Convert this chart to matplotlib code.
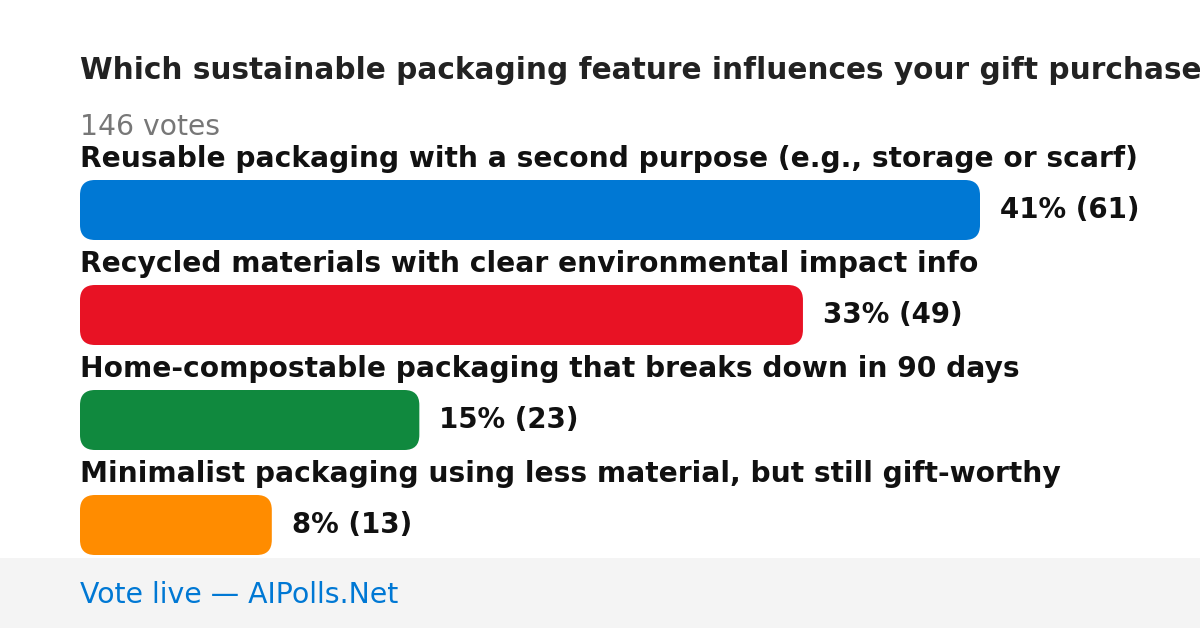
import matplotlib.pyplot as plt
from matplotlib.patches import FancyBboxPatch, Rectangle

plt.rcParams['font.family'] = ['DejaVu Sans']

# poll data
title = "Which sustainable packaging feature influences your gift purchase?"
total_votes = 146
options = [
    "Reusable packaging with a second purpose (e.g., storage or scarf)",
    "Recycled materials with clear environmental impact info",
    "Home-compostable packaging that breaks down in 90 days",
    "Minimalist packaging using less material, but still gift-worthy",
]
votes = [61, 49, 23, 13]
percents = [41, 33, 15, 8]
colors = ["#0078d4", "#e81224", "#10893e", "#ff8c00"]


def draw_poll():
    W, H = 1200, 628
    fig = plt.figure(figsize=(W / 100, H / 100), dpi=100)
    ax = fig.add_axes([0, 0, 1, 1])
    ax.set_xlim(0, W)
    ax.set_ylim(H, 0)
    ax.axis("off")

    left = 80
    max_len = 900
    top = 180
    bar_h = 60
    step = 105

    # title runs past the right edge, as in the original card
    ax.text(left, 79, title, fontsize=21.3, fontweight="bold", color="#222222",
            va="baseline", ha="left")
    ax.text(left, 135, f"{total_votes} votes", fontsize=20.3, color="#777777",
            va="baseline", ha="left")

    for i, (label, v, p, c) in enumerate(zip(options, votes, percents, colors)):
        y0 = top + i * step
        ax.text(left, y0 - 13, label, fontsize=20.25, fontweight="bold",
                color="#111111", va="baseline", ha="left")
        w = v / max(votes) * max_len
        bar = FancyBboxPatch((left, y0), w, bar_h,
                             boxstyle="round,pad=0,rounding_size=15",
                             facecolor=c, edgecolor="none")
        ax.add_patch(bar)
        ax.text(left + w + 20, y0 + bar_h / 2 + 8, f"{p}% ({v})", fontsize=19.9,
                fontweight="bold", color="#111111", va="baseline", ha="left")

    # footer band
    ax.add_patch(Rectangle((0, 558), W, H - 558, facecolor="#f4f4f4",
                           edgecolor="none"))
    ax.text(left, 603, "Vote live \u2014 AIPolls.Net", fontsize=20.4,
            color="#0078d4", va="baseline", ha="left")

    fig.savefig("out.png", dpi=100)


if __name__ == "__main__":
    draw_poll()
